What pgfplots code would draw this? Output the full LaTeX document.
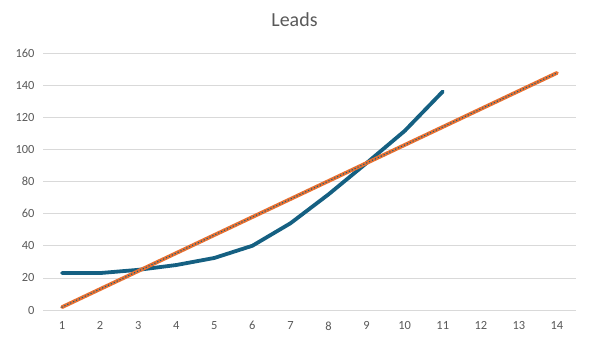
\documentclass[border=0pt]{standalone}
\usepackage{pgfplots}
\pgfplotsset{compat=1.18}
\usepackage{fontspec}
\setmainfont{Carlito}
\definecolor{sblue}{HTML}{156082}
\definecolor{sorange}{HTML}{E97132}
\definecolor{gridc}{HTML}{D9D9D9}
\definecolor{txt}{HTML}{595959}
\begin{document}
\begin{tikzpicture}[x=1bp,y=1bp]
\useasboundingbox (0,0) rectangle (589,343);
\begin{axis}[
  at={(43bp,33bp)}, anchor=south west,
  scale only axis, width=533bp, height=257bp,
  xmin=0.5, xmax=14.5, ymin=0, ymax=160,
  xtick={1,...,14}, ytick={0,20,...,160},
  xmajorgrids=false, ymajorgrids=true,
  y grid style={gridc, line width=0.75pt},
  axis line style={draw=none},
  xtick style={draw=none}, ytick style={draw=none},
  tick label style={font=\fontsize{12.5}{14}\selectfont, text=txt},
  /pgf/number format/assume math mode=true,
  xticklabel style={yshift=-8bp},
  yticklabel style={xshift=-5bp},
  clip=false,
]
\draw[gridc, line width=0.75pt] (axis cs:0.5,0) -- (axis cs:14.5,0);
\addplot[sblue, line width=3.8bp, line join=round, line cap=round] coordinates {
(1,23) (2,23) (3,25) (4,28) (5,32.4) (6,40) (7,54) (8,72) (9,91.5) (10,111.5) (11,136)};
\addplot[sorange, line width=3.8bp, line cap=round] coordinates {(1,1.8) (14,147.6)};
\addplot[sblue, line width=1.6bp, dash pattern=on 0.01bp off 3.2bp, line cap=round] coordinates {(1,1.8) (14,147.6)};
\end{axis}
\node[text=txt, font=\fontsize{20}{22}\selectfont] at (294.5,323) {Leads};
\end{tikzpicture}
\end{document}
